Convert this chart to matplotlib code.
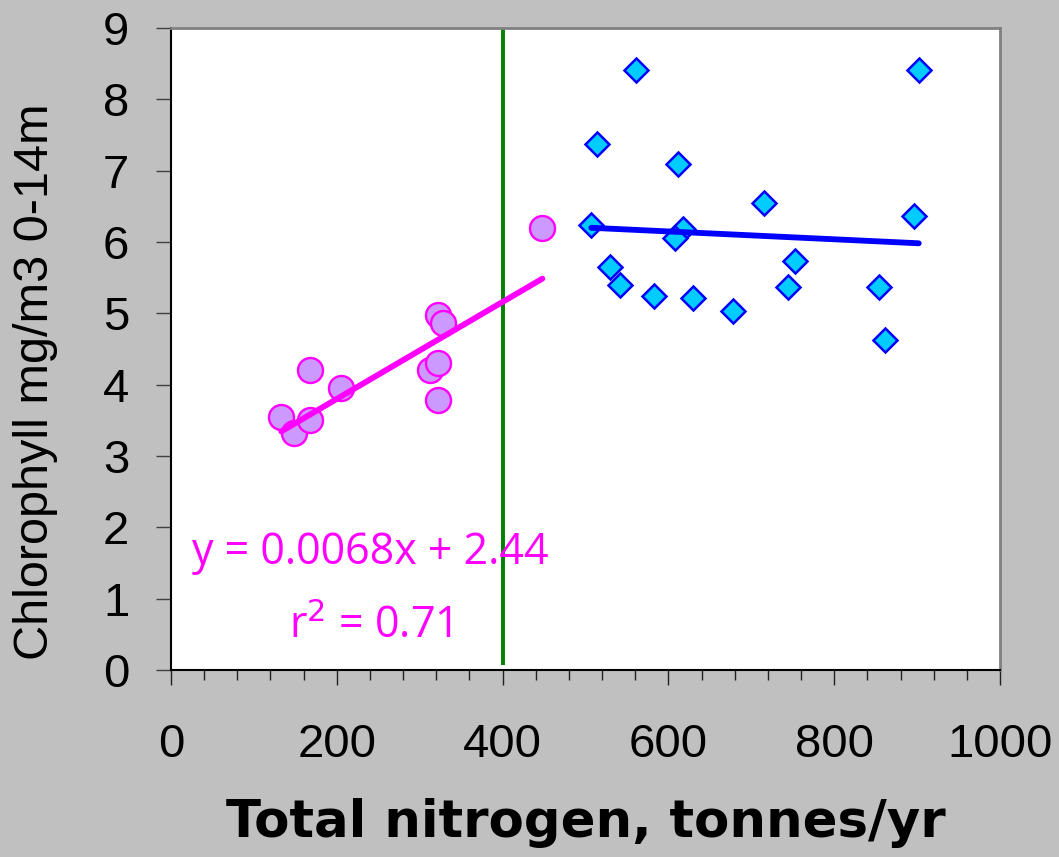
"""
Chlorophyll vs total nitrogen load, two regimes split at 400 t/yr.
"""
import matplotlib
matplotlib.use("Agg")
import matplotlib.pyplot as plt
from matplotlib.ticker import MultipleLocator
import numpy as np

# -- data ----------------------------------------------------------------------
low_n    = [133, 148, 168, 168, 205, 312, 322, 322, 322, 328, 448]
low_chl  = [3.54, 3.32, 4.21, 3.51, 3.96, 4.21, 4.31, 3.79, 4.98, 4.87, 6.19]

high_n   = [561, 902, 514, 611, 715, 896, 507, 618, 608, 529, 753,
            542, 583, 630, 678, 744, 854, 861]
high_chl = [8.41, 8.41, 7.38, 7.09, 6.54, 6.36, 6.24, 6.18, 6.05, 5.65, 5.73,
            5.40, 5.25, 5.21, 5.03, 5.37, 5.37, 4.63]

# fitted lines as shown on the chart
low_slope, low_icpt   = 0.0068, 2.44
high_slope, high_icpt = -0.00055, 6.478

split_x  = 400
split_y  = [0.07, 9]

eq_text = "y = 0.0068x + 2.44"
r2_text = "r$^2$ = 0.71"

# -- figure --------------------------------------------------------------------
W, H = 1059, 857
fig = plt.figure(figsize=(W / 100, H / 100), dpi=100)
fig.patch.set_facecolor("#c0c0c0")
ax = fig.add_axes([171 / W, 1 - 670 / H, 829 / W, 642 / H])
ax.set_facecolor("white")

ax.plot([split_x, split_x], split_y, color="#008000", lw=2.8,
        solid_capstyle="butt", zorder=2)

ax.plot(low_n, low_chl, linestyle="None", marker="o", markersize=18,
        markerfacecolor="#cc99ff", markeredgecolor="#ff00ff",
        markeredgewidth=1.7, zorder=3)
ax.plot(high_n, high_chl, linestyle="None", marker="D", markersize=12,
        markerfacecolor="#00ccff", markeredgecolor="#0000ff",
        markeredgewidth=1.8, zorder=3)

lx = np.sort(np.array(low_n, dtype=float))
ax.plot(lx, low_slope * lx + low_icpt, color="#ff00ff", lw=4.2,
        solid_capstyle="round", zorder=4)
hx = np.sort(np.array(high_n, dtype=float))
ax.plot(hx, high_slope * hx + high_icpt, color="#0000ff", lw=4.2,
        solid_capstyle="round", zorder=4)

eq_font = ["Open Sans", "DejaVu Sans"]
ax.text(240, 1.64, eq_text, ha="center", va="center", color="#ff00ff",
        fontsize=31, family=eq_font, zorder=5)
ax.text(240, 0.60, r2_text, ha="center", va="center", color="#ff00ff",
        fontsize=31, family=eq_font, zorder=5)

ax.set_xlim(0, 1000)
ax.set_ylim(0, 9)
ax.xaxis.set_major_locator(MultipleLocator(200))
ax.xaxis.set_minor_locator(MultipleLocator(40))
ax.yaxis.set_major_locator(MultipleLocator(1))

tick_font = ["Liberation Sans", "DejaVu Sans"]
ax.tick_params(axis="x", which="major", direction="out", length=11, width=1,
               color="#202020", pad=27, labelsize=34)
ax.tick_params(axis="x", which="minor", direction="out", length=7, width=1,
               color="#202020")
ax.tick_params(axis="y", which="major", direction="out", length=11, width=1,
               color="#404040", pad=19, labelsize=34)
for lab in ax.get_xticklabels() + ax.get_yticklabels():
    lab.set_family(tick_font)

for side in ["left", "bottom"]:
    ax.spines[side].set_color("#000000")
    ax.spines[side].set_linewidth(1.5)
for side in ["top", "right"]:
    ax.spines[side].set_color("#808080")
    ax.spines[side].set_linewidth(2)

ax.set_xlabel("Total nitrogen, tonnes/yr", fontsize=37, fontweight="bold",
              family=["DejaVu Sans"])
ax.xaxis.set_label_coords(0.5, -0.2)
ax.set_ylabel("Chlorophyll mg/m3 0-14m", fontsize=35, family=tick_font)
ax.yaxis.set_label_coords(-0.136, 0.449)

plt.savefig("out.png", dpi=100, facecolor=fig.get_facecolor())
plt.close()
